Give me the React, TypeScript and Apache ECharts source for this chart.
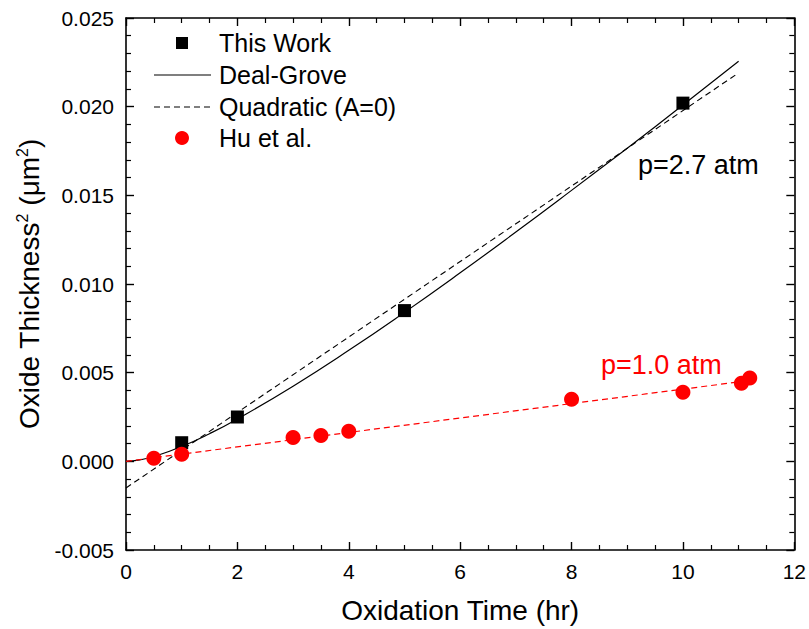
import React, { useEffect, useRef } from "react";
import * as echarts from "echarts";

const thisWorkX = [1, 2, 5, 10];
const thisWorkY = [0.00105, 0.0025, 0.0085, 0.0202];

const dealGroveX = [0, 0.25, 0.5, 1, 1.5, 2, 3, 4, 5, 6, 7, 8, 9, 10, 11];
const dealGroveY = [0, 0.00008, 0.00027, 0.00084, 0.00156, 0.00239, 0.00424, 0.00626, 0.0084, 0.01063, 0.01293, 0.01528, 0.01766, 0.02009, 0.02256];

const quadX = [0, 10.95];
const quadY = [-0.0015, 0.0218];

const huX = [0.5, 1.0, 3.0, 3.5, 4.0, 8.0, 10.0, 11.05, 11.2];
const huY = [0.00018, 0.0004, 0.00135, 0.00146, 0.0017, 0.0035, 0.0039, 0.0044, 0.0047];

const huFitX = [0, 11.3];
const huFitY = [0, 0.0046];

const legendLabels = ["This Work", "Deal-Grove", "Quadratic (A=0)", "Hu et al."];

const FONT = "'Liberation Sans', Arial, Helvetica, sans-serif";

const zip = (xs: number[], ys: number[]) => xs.map((x, i) => [x, ys[i]]);

export default function App() {
  const ref = useRef<HTMLDivElement>(null);
  useEffect(() => {
    if (!ref.current) return;
    const chart = echarts.init(ref.current, null, { renderer: "svg" });
    const axisLine = { show: true, onZero: false, lineStyle: { color: "#000", width: 1.6 } };
    const tick = { inside: true, length: 8, lineStyle: { color: "#000", width: 1.4 } };
    const legX = 182;
    const legTextX = 219;
    const legYs = [43, 75, 107, 138];
    chart.setOption({
      animation: false,
      backgroundColor: "#fff",
      textStyle: { fontFamily: FONT },
      grid: { left: 126, right: 12, top: 18, bottom: 77, containLabel: false },
      xAxis: [
        {
          type: "value",
          min: 0,
          max: 12,
          interval: 2,
          position: "bottom",
          name: "Oxidation Time (hr)",
          nameLocation: "middle",
          nameGap: 46,
          nameTextStyle: { fontSize: 28, color: "#000", fontFamily: FONT },
          axisLine,
          axisTick: tick,
          minorTick: { show: true, splitNumber: 4, length: 5, lineStyle: { color: "#000", width: 1.2 } },
          axisLabel: { fontSize: 21, color: "#000", margin: 11, fontFamily: FONT },
          splitLine: { show: false },
        },
        {
          type: "value",
          min: 0,
          max: 12,
          interval: 2,
          position: "top",
          axisLine,
          axisTick: tick,
          minorTick: { show: true, splitNumber: 4, length: 5, lineStyle: { color: "#000", width: 1.2 } },
          axisLabel: { show: false },
          splitLine: { show: false },
        },
      ],
      yAxis: [
        {
          type: "value",
          min: -0.005,
          max: 0.025,
          interval: 0.005,
          position: "left",
          name: "Oxide Thickness{sup|2} (μm{sup|2})",
          nameLocation: "middle",
          nameGap: 82,
          nameRotate: 90,
          nameTextStyle: {
            fontSize: 28,
            color: "#000",
            fontFamily: FONT,
            rich: { sup: { fontSize: 16, verticalAlign: "top", padding: [0, 0, 14, 0], color: "#000", fontFamily: FONT } },
          },
          axisLine,
          axisTick: tick,
          minorTick: { show: true, splitNumber: 5, length: 5, lineStyle: { color: "#000", width: 1.2 } },
          axisLabel: {
            fontSize: 21,
            color: "#000",
            margin: 12,
            fontFamily: FONT,
            formatter: (v: number) => v.toFixed(3),
          },
          splitLine: { show: false },
        },
        {
          type: "value",
          min: -0.005,
          max: 0.025,
          interval: 0.005,
          position: "right",
          axisLine,
          axisTick: tick,
          minorTick: { show: true, splitNumber: 5, length: 5, lineStyle: { color: "#000", width: 1.2 } },
          axisLabel: { show: false },
          splitLine: { show: false },
        },
      ],
      series: [
        {
          name: "Deal-Grove",
          type: "line",
          data: zip(dealGroveX, dealGroveY),
          smooth: true,
          showSymbol: false,
          lineStyle: { color: "#000", width: 1.2, type: "solid" },
          z: 2,
        },
        {
          name: "Quadratic (A=0)",
          type: "line",
          data: zip(quadX, quadY),
          showSymbol: false,
          lineStyle: { color: "#000", width: 1.1, type: [6, 4] },
          z: 2,
        },
        {
          name: "Hu fit",
          type: "line",
          data: zip(huFitX, huFitY),
          showSymbol: false,
          lineStyle: { color: "#ff0000", width: 1.2, type: [6, 4] },
          z: 2,
        },
        {
          name: "This Work",
          type: "scatter",
          data: zip(thisWorkX, thisWorkY),
          symbol: "rect",
          symbolSize: 13,
          itemStyle: { color: "#000", opacity: 1 },
          z: 3,
        },
        {
          name: "Hu et al.",
          type: "scatter",
          data: zip(huX, huY),
          symbol: "circle",
          symbolSize: 15,
          itemStyle: { color: "#ff0000", opacity: 1 },
          z: 3,
        },
      ],
      graphic: [
        { type: "rect", shape: { x: legX - 6, y: legYs[0] - 6, width: 12, height: 12 }, style: { fill: "#000" } },
        { type: "line", shape: { x1: legX - 28, y1: legYs[1], x2: legX + 29, y2: legYs[1] }, style: { stroke: "#000", lineWidth: 1.2 } },
        { type: "line", shape: { x1: legX - 28, y1: legYs[2], x2: legX + 29, y2: legYs[2] }, style: { stroke: "#000", lineWidth: 1.1, lineDash: [6, 4] } },
        { type: "circle", shape: { cx: legX, cy: legYs[3], r: 7 }, style: { fill: "#ff0000" } },
        ...legendLabels.map((t, i) => ({
          type: "text",
          x: legTextX,
          y: legYs[i],
          style: { text: t, fontSize: 25, fontFamily: FONT, fill: "#000", verticalAlign: "middle" },
        })),
        {
          type: "text",
          x: 638,
          y: 165,
          style: { text: "p=2.7 atm", fontSize: 27, fontFamily: FONT, fill: "#000", verticalAlign: "middle" },
        },
        {
          type: "text",
          x: 601,
          y: 365,
          style: { text: "p=1.0 atm", fontSize: 27, fontFamily: FONT, fill: "#ff0000", verticalAlign: "middle" },
        },
      ],
    });
    return () => chart.dispose();
  }, []);
  return <div ref={ref} style={{ width: 809, height: 629, position: "absolute", left: 0, top: 0 }} />;
}
